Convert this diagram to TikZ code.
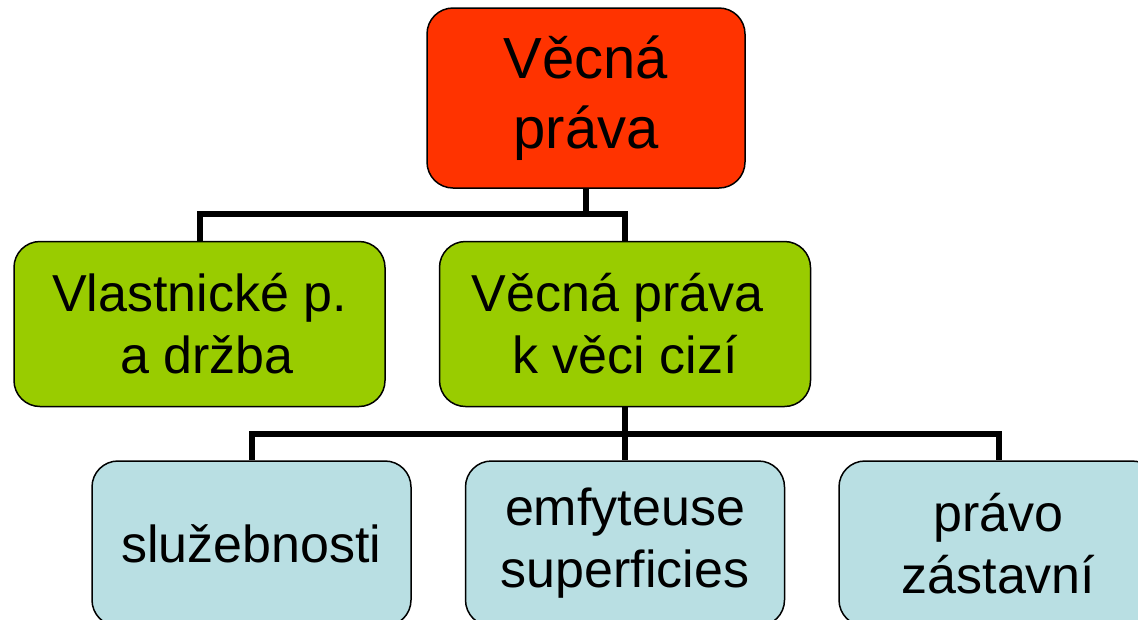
\documentclass[tikz,border=0pt]{standalone}
\usepackage{fontspec}
\setmainfont{Liberation Sans}
\usetikzlibrary{positioning}

\definecolor{boxred}{HTML}{FF3300}
\definecolor{boxgreen}{HTML}{99CC00}
\definecolor{boxblue}{HTML}{B9DFE3}

\begin{document}
\begin{tikzpicture}[x=1pt, y=1pt,
	b/.style={draw, line width=1.5pt, rounded corners=26pt, align=center, inner sep=0pt},
	top/.style={b, fill=boxred, minimum width=318pt, minimum height=180pt, font=\fontsize{58}{70}\selectfont},
	mid/.style={b, fill=boxgreen, minimum width=371pt, minimum height=165pt, font=\fontsize{52}{62}\selectfont},
	low/.style={b, fill=boxblue, minimum width=319pt, minimum height=165pt, font=\fontsize{52}{62}\selectfont},
	con/.style={line width=6pt}]
	\useasboundingbox (0,0) rectangle (1138,-619);

	\node[top] (vp) at (586,-98) {Věcná\\práva};
	\node[mid, below=52pt of vp, xshift=39pt] (vc) {Věcná práva\kern.28em\\k věci cizí};
	\node[mid, left=53pt of vc] (vl) {Vlastnické p.\\\kern.28em a držba};
	\node[low, below=53pt of vc] (em) {emfyteuse\\superficies};
	\node[low, left=53pt of em] (sl) {služebnosti};
	\node[low, right=53pt of em] (pz) {právo\\zástavní};

	\draw[con] (vp.south) -- ++(0,-25) -| (vl.north);
	\draw[con] (vp.south) -- ++(0,-25) -| (vc.north);
	\draw[con] (vc.south) -- ++(0,-27) -| (sl.north);
	\draw[con] (vc.south) -- (em.north);
	\draw[con] (vc.south) -- ++(0,-27) -| (pz.north);
\end{tikzpicture}
\end{document}
